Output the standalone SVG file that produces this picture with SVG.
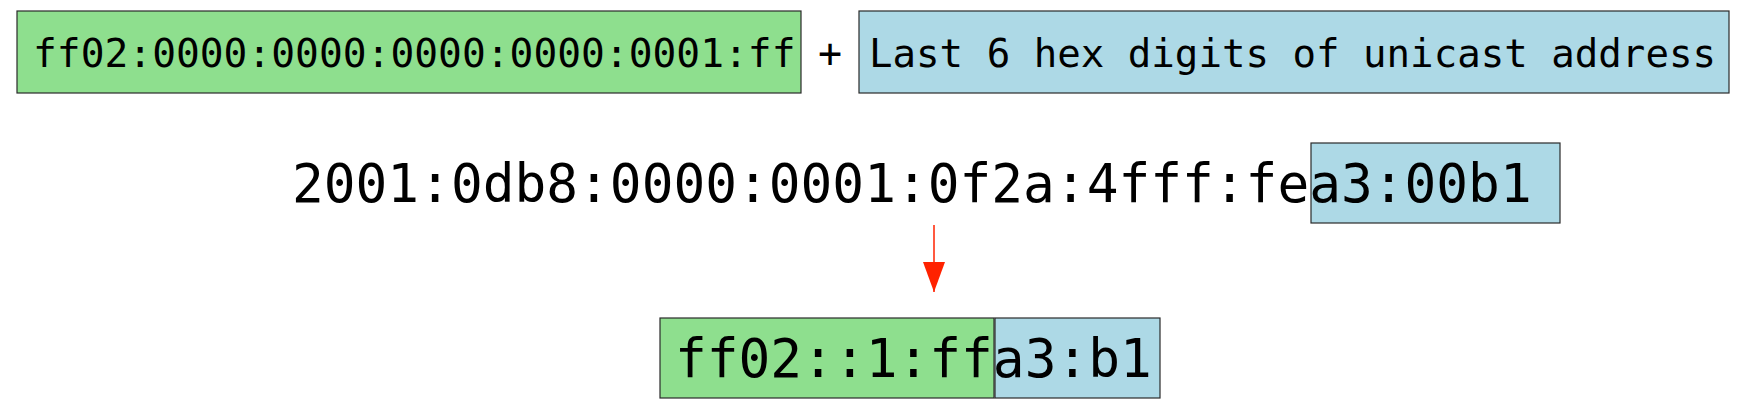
<svg xmlns="http://www.w3.org/2000/svg" width="1751" height="407" viewBox="0 0 1751 407">
<style>
.g{fill:#8edf8e;stroke:#2a2a2a;stroke-width:1.2}
.b{fill:#add9e6;stroke:#2a2a2a;stroke-width:1.2}
.t{font-family:"DejaVu Sans Mono","Liberation Mono",monospace;fill:#000}
.l{font-size:52.8px}
</style>
<defs>
<marker id="ah" markerWidth="30" markerHeight="22" refX="30" refY="11" orient="auto" markerUnits="userSpaceOnUse" viewBox="0 0 30 22">
<path d="M0,0 L30,11 L0,22 Z" fill="#ff2200"/>
</marker>
</defs>
<g id="prefix">
<rect class="g" x="17" y="11" width="784" height="82"/>
<text class="t" x="33" y="67" font-size="39.6">ff02:0000:0000:0000:0000:0001:ff</text>
</g>
<g id="plus">
<text class="t" x="830" y="67" font-size="40" text-anchor="middle">+</text>
</g>
<g id="suffix">
<rect class="b" x="859" y="11" width="870" height="82"/>
<text class="t" x="869" y="67" font-size="39.1">Last 6 hex digits of unicast address</text>
</g>
<g id="unicast">
<rect class="b" x="1311" y="143" width="249" height="80"/>
<text class="t l" x="292" y="202">2001:0db8:0000:0001:0f2a:4fff:fea3:00b1</text>
</g>
<g id="connectors">
<line x1="934" y1="225" x2="934" y2="292" stroke="#ff2200" stroke-width="1.5" marker-end="url(#ah)"/>
</g>
<g id="multicast">
<rect class="g" x="660" y="318" width="334" height="80"/>
<rect class="b" x="995" y="318" width="165" height="80"/>
<text class="t l" x="675" y="377">ff02::1:ffa3:b1</text>
</g>
</svg>
